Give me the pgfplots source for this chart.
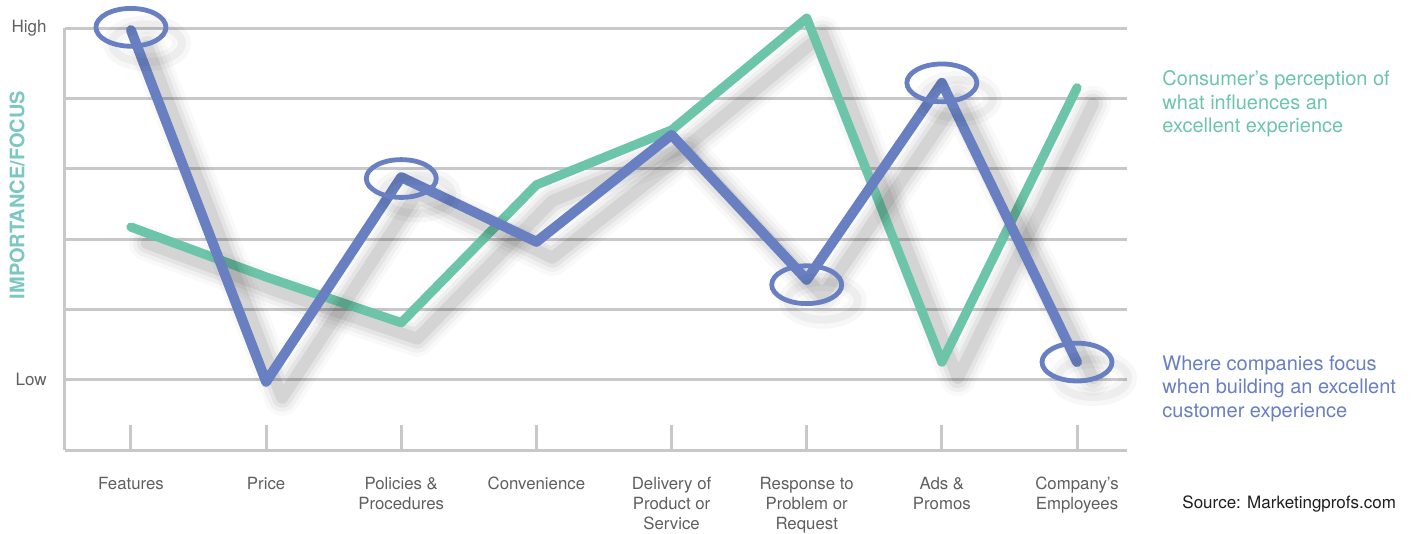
\documentclass[border=0pt]{standalone}
\usepackage{fontspec}
\setmainfont{TeX Gyre Heros}
\usepackage{pgfplots}
\usepackage{pgfplotstable}
\pgfplotsset{compat=1.18}
\definecolor{cgreen}{RGB}{108,197,168}
\definecolor{cblue}{RGB}{104,127,193}
\definecolor{gridgray}{RGB}{200,200,203}
\definecolor{labgray}{RGB}{95,95,95}
\definecolor{ylab}{RGB}{124,198,196}
\pgfplotstableread{
x green blue
1 3.17 5.97
2 2.46 0.97
3 1.81 3.88
4 3.77 2.96
5 4.55 4.48
6 6.14 2.42
7 1.25 5.22
8 5.15 1.25
}\datatab
\pgfplotstableread{
x y
1 6.01
3 3.86
6 2.35
7 5.22
8 1.25
}\circtab
\tikzset{
  shbase/.style={draw=black, xshift=8pt, yshift=-8pt, line cap=round, line join=round},
  shadowA/.style={shbase, opacity=0.025, line width=18pt},
  shadowB/.style={shbase, opacity=0.035, line width=14pt},
  shadowC/.style={shbase, opacity=0.05, line width=10pt},
  shadowD/.style={shbase, opacity=0.07, line width=6pt},
}
\begin{document}
\begin{tikzpicture}
\useasboundingbox (-32.5pt,-42pt) rectangle (675.5pt,225pt);
\begin{axis}[
  at={(0,0)}, anchor=south west,
  scale only axis, width=531pt, height=211pt,
  xmin=0.512, xmax=8.37, ymin=0, ymax=6,
  axis x line=bottom, axis y line=left,
  axis line style={-, draw=gridgray, line width=1.5pt},
  xtick={1,...,8},
  xticklabels={Features, Price, {Policies \&\\Procedures}, Convenience, {Delivery of\\Product or\\Service}, {Response to\\Problem or\\Request}, {Ads \&\\Promos}, {Company’s\\Employees}},
  ytick={1,...,6}, yticklabels={Low,,,,,High},
  ymajorgrids, grid style={draw=gridgray, line width=1.5pt},
  xtick style={draw=gridgray, line width=1.5pt},
  ytick style={draw=none},
  tick align=inside, major tick length=12.5pt,
  xticklabel style={font=\fontsize{8.4}{10}\selectfont, text=labgray, align=center, anchor=north, inner sep=0pt, yshift=-13.4pt},
  yticklabel style={font=\fontsize{8.5}{10}\selectfont, text=labgray, anchor=east, inner sep=0pt, xshift=-9pt},
  clip=false,
]
% green series with shadow
\addplot[shadowA] table[x=x,y=green]{\datatab};
\addplot[shadowB] table[x=x,y=green]{\datatab};
\addplot[shadowC] table[x=x,y=green]{\datatab};
\addplot[shadowD] table[x=x,y=green]{\datatab};
\addplot[cgreen, line width=4.6pt, line cap=round, line join=round] table[x=x,y=green]{\datatab};
% blue series with shadow
\addplot[shadowA] table[x=x,y=blue]{\datatab};
\addplot[shadowB] table[x=x,y=blue]{\datatab};
\addplot[shadowC] table[x=x,y=blue]{\datatab};
\addplot[shadowD] table[x=x,y=blue]{\datatab};
\addplot[cblue, line width=5pt, line cap=round, line join=round] table[x=x,y=blue]{\datatab};
% ellipses
\addplot[only marks, mark=o, mark size=17.5pt, mark options={draw=black, opacity=0.03, yscale=0.54, line width=9pt}, xshift=8pt, yshift=-8pt] table[x=x,y=y]{\circtab};
\addplot[only marks, mark=o, mark size=17.5pt, mark options={draw=black, opacity=0.04, yscale=0.54, line width=4pt}, xshift=8pt, yshift=-8pt] table[x=x,y=y]{\circtab};
\addplot[only marks, mark=o, mark size=17.5pt, mark options={draw=cblue, yscale=0.54, line width=2.4pt}] table[x=x,y=y]{\circtab};
% y label
\node[rotate=90, font=\fontsize{10}{12}\selectfont\bfseries, text=ylab] at (axis description cs:-0.0452,0.604) {IMPORTANCE/FOCUS};
% legend texts
\node[anchor=north west, inner sep=0pt, align=left, text=cgreen, font=\fontsize{10}{11.75}\selectfont] at (axis description cs:1.033,0.899) {Consumer’s perception of\\what influences an\\excellent experience};
\node[anchor=north west, inner sep=0pt, align=left, text=cblue, font=\fontsize{10}{11.75}\selectfont] at (axis description cs:1.033,0.225) {Where companies focus\\when building an excellent\\customer experience};
\node[anchor=north west, inner sep=0pt, text={rgb,255:red,30;green,30;blue,30}, font=\fontsize{8.5}{10}\selectfont] at (axis description cs:1.0518,-0.1078) {Source: Marketingprofs.com};
\end{axis}
\end{tikzpicture}
\end{document}
